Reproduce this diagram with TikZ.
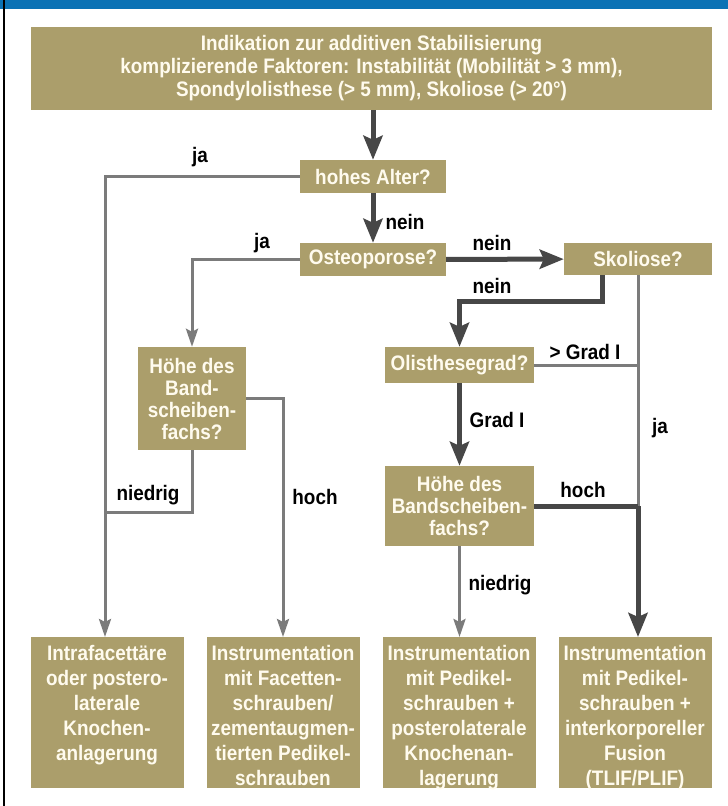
\documentclass[tikz,border=0pt]{standalone}
\usepackage{fontspec}
\setmainfont{Liberation Sans}[FakeStretch=0.9]
\usepackage{tikz}
\usetikzlibrary{positioning, arrows.meta}
\definecolor{boxfill}{HTML}{AB9E6B}
\definecolor{boxtext}{HTML}{FFFBEE}
\definecolor{darkline}{HTML}{474747}
\definecolor{grayline}{HTML}{7B7B7B}
\definecolor{topbar}{HTML}{0B72B5}
\tikzstyle{every node}=[font=\fontsize{21}{22}\selectfont\bfseries]
\tikzstyle{question}=[fill=boxfill, text=boxtext, inner sep=0pt, align=center]
\tikzstyle{endbox}=[fill=boxfill, minimum width=153pt, minimum height=151pt, anchor=north, inner sep=0pt]
\tikzstyle{endtext}=[text=boxtext, align=center, inner sep=0pt, font=\fontsize{21}{25}\selectfont\bfseries]
\tikzstyle{answer}=[text=black, inner sep=0pt]
\tikzstyle{main}=[draw=darkline, line width=5pt]
\tikzstyle{side}=[draw=grayline, line width=3pt]
\tikzstyle{mainarrow}=[main, -{Stealth[length=24pt, width=19pt, inset=4pt]}]
\tikzstyle{sidearrow}=[side, -{Stealth[length=18pt, width=12pt, inset=3pt]}]

\begin{document}
\begin{tikzpicture}[x=1pt, y=-1pt]
  \useasboundingbox (0,0) rectangle (728,806);
  \fill[topbar] (0,0) rectangle (728,9);
  \draw[black, line width=1.2pt] (4,0) -- (4,806);

  % questions
  \node[question, minimum width=681pt, minimum height=83pt, font=\fontsize{21}{23}\selectfont\bfseries] (indikation) at (371.5,68.5)
    {Indikation zur additiven Stabilisierung\\komplizierende Faktoren: Instabilität (Mobilität > 3 mm),\\Spondylolisthese (> 5 mm), Skoliose (> 20°)};
  \node[question, minimum width=146pt, minimum height=33pt] (alter) at (373,176.5) {hohes Alter?};
  \node[question, minimum width=146pt, minimum height=33pt] (osteo) at (373,259.5) {Osteoporose?};
  \node[question, minimum width=148pt, minimum height=32pt] (skoliose) at (638,259) {Skoliose?};
  \node[question, minimum width=149pt, minimum height=36pt] (olisthese) at (459.5,365) {Olisthesegrad?};
  \node[question, minimum width=108pt, minimum height=103pt] (hoehe-1) at (192,398.5) {Höhe des\\Band-\\scheiben-\\fachs?};
  \node[question, minimum width=149pt, minimum height=80pt] (hoehe-2) at (459.5,506) {Höhe des\\Bandscheiben-\\fachs?};

  % results
  \foreach \x/\t [count=\i] in {107/{Intrafacettäre\\oder postero-\\laterale\\Knochen-\\anlagerung},
      283/{Instrumentation\\mit Facetten-\\schrauben/\\zementaugmen-\\tierten Pedikel-\\schrauben},
      459/{Instrumentation\\mit Pedikel-\\schrauben +\\posterolaterale\\Knochenan-\\lagerung},
      635/{Instrumentation\\mit Pedikel-\\schrauben +\\interkorporeller\\Fusion\\(TLIF/PLIF)}}{
    \node[endbox] (end-\i) at (\x,637) {};
    \node[endtext, below=8pt] (endtext-\i) at (end-\i.north) {\t};
  }

  \coordinate (join-r) at (skoliose.south |- hoehe-2.east);
  \coordinate (join-l) at (105,512);

  % connectors
  \draw[mainarrow] (indikation.south -| alter.north) -- (alter.north);
  \draw[sidearrow] (alter.west) -| (join-l |- end-1.north);
  \draw[mainarrow] (alter) -- (osteo);
  \draw[sidearrow] (osteo.west) -| (hoehe-1.north);
  \draw[mainarrow] (osteo) -- (skoliose);
  \draw[mainarrow] ([xshift=-36pt]skoliose.south) -- ++(0,26) -| (olisthese.north);
  \draw[side] (skoliose.south) -- (join-r);
  \draw[side] (olisthese.east) -- (olisthese.east -| join-r);
  \draw[mainarrow] (olisthese) -- (hoehe-2);
  \draw[main] (hoehe-2.east) -- (join-r);
  \draw[mainarrow] (join-r) -- (join-r |- end-4.north);
  \draw[sidearrow] (hoehe-2.south) -- (hoehe-2.south |- end-3.north);
  \draw[sidearrow] (hoehe-1.east) -| (end-2.north);
  \draw[side] (hoehe-1.south) |- (join-l);

  % answers
  \node[answer] (ja-1) at (200,157) {ja};
  \node[answer] (nein-1) at (405,222) {nein};
  \node[answer] (ja-2) at (262,243) {ja};
  \node[answer] (nein-2) at (492,243) {nein};
  \node[answer] (nein-3) at (492,286) {nein};
  \node[answer] (grad-gt) at (585,352) {> Grad I};
  \node[answer] (grad-1) at (497,420) {Grad I};
  \node[answer] (ja-3) at (660,428) {ja};
  \node[answer] (hoch-2) at (583,490) {hoch};
  \node[answer] (niedrig-2) at (500,585) {niedrig};
  \node[answer] (hoch-1) at (315,497) {hoch};
  \node[answer] (niedrig-1) at (148,495) {niedrig};
\end{tikzpicture}
\end{document}
